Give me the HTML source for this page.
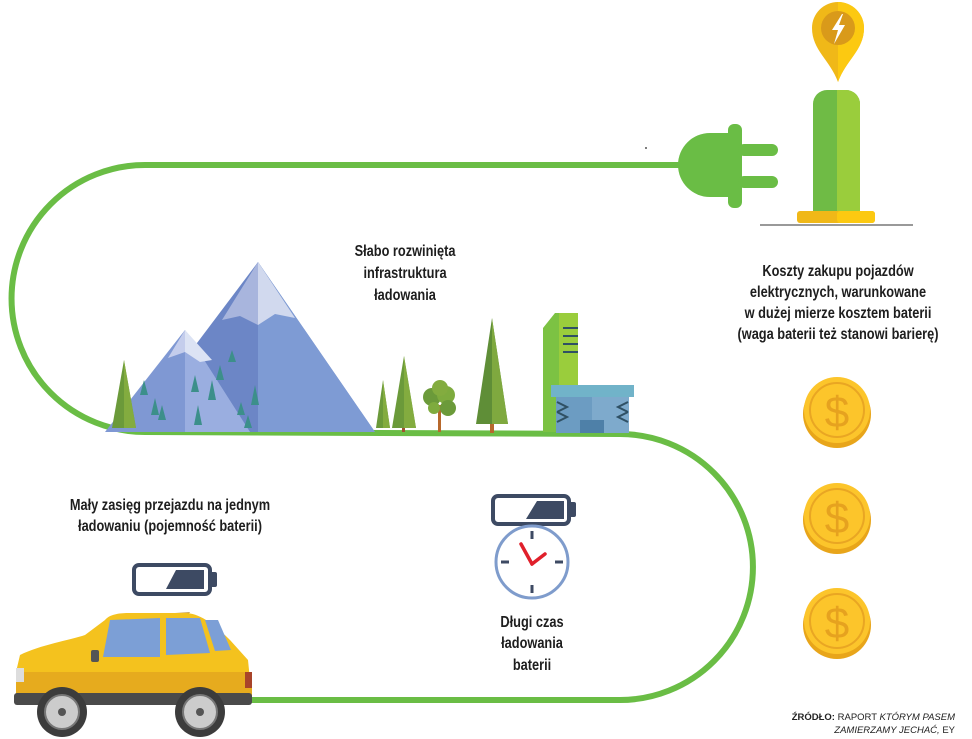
<!DOCTYPE html>
<html><head><meta charset="utf-8">
<style>
html,body{margin:0;padding:0;background:#fff;}
body{width:972px;height:739px;overflow:hidden;position:relative;}
svg{position:absolute;left:0;top:0;}
.t{font-family:"Liberation Sans",sans-serif;font-weight:bold;fill:#1e1e1e;font-size:16px;text-anchor:middle;}
</style></head><body>
<svg width="972" height="739" viewBox="0 0 972 739">
<!-- green path -->
<path d="M690 165 L145 165 A133 133 0 0 0 145 432 L620 434 A133 133 0 0 1 620 700 L240 700" fill="none" stroke="#6abd45" stroke-width="6"/>
<!-- plug -->
<path d="M735 133 L710 133 A32 32 0 0 0 710 197 L735 197 z" fill="#6abd45"/>
<rect x="728" y="124" width="14" height="84" rx="6" fill="#6abd45"/>
<rect x="738" y="144" width="40" height="12" rx="6" fill="#6abd45"/>
<rect x="738" y="176" width="40" height="12" rx="6" fill="#6abd45"/>
<circle cx="646" cy="148" r="1" fill="#555"/>
<!-- charger post -->
<path d="M813 104 a14 14 0 0 1 14 -14 h19 a14 14 0 0 1 14 14 V213 H813 z" fill="#6fbb45"/>
<path d="M837 90 h9 a14 14 0 0 1 14 14 V213 H837 z" fill="#9acd3c"/>
<rect x="797" y="211" width="78" height="12" rx="3" fill="#f0b818"/>
<rect x="837" y="211" width="38" height="12" rx="3" fill="#fcc911"/>
<line x1="760" y1="225" x2="913" y2="225" stroke="#999" stroke-width="2"/>
<!-- pin -->
<path d="M838 82 C830 60 812 50 812 28 a26 26 0 0 1 52 0 C864 50 846 60 838 82 z" fill="#f0b818"/>
<path d="M838 82 C846 60 864 50 864 28 a26 26 0 0 0 -26 -26 z" fill="#fcc911"/>
<circle cx="838" cy="28" r="17" fill="#d99a1a"/>
<path d="M842 14 L832 30 L838 30 L834 44 L845 25 L839 25 L843 14 z" fill="#fff"/>
<!-- text blocks -->
<g transform="translate(838,0) scale(0.8,1)">
<text class="t" x="0" y="276">Koszty zakupu pojazdów</text>
<text class="t" x="0" y="297">elektrycznych, warunkowane</text>
<text class="t" x="0" y="318">w dużej mierze kosztem baterii</text>
<text class="t" x="0" y="339">(waga baterii też stanowi barierę)</text>
</g>
<g transform="translate(405,0) scale(0.8,1)">
<text class="t" x="0" y="256">Słabo rozwinięta</text>
<text class="t" x="0" y="278">infrastruktura</text>
<text class="t" x="0" y="300">ładowania</text>
</g>
<g transform="translate(170,0) scale(0.8,1)">
<text class="t" x="0" y="510">Mały zasięg przejazdu na jednym</text>
<text class="t" x="0" y="531">ładowaniu (pojemność baterii)</text>
</g>
<g transform="translate(532,0) scale(0.8,1)">
<text class="t" x="0" y="627">Długi czas</text>
<text class="t" x="0" y="648">ładowania</text>
<text class="t" x="0" y="670">baterii</text>
</g>
<text x="955" y="720" font-family="Liberation Sans,sans-serif" font-size="9.5" text-anchor="end" fill="#222"><tspan font-weight="bold">ŹRÓDŁO:</tspan> RAPORT <tspan font-style="italic">KTÓRYM PASEM</tspan></text>
<text x="955" y="733" font-family="Liberation Sans,sans-serif" font-size="9.5" text-anchor="end" fill="#222" font-style="italic">ZAMIERZAMY JECHAĆ, <tspan font-style="normal">EY</tspan></text>
<!-- coins -->
<g id="c">
<circle cx="837" cy="414" r="34" fill="#e8a51a"/>
<circle cx="837" cy="410" r="33" fill="#fcc52b"/>
<circle cx="837" cy="410" r="27" fill="none" stroke="#e9a623" stroke-width="2"/>
<text x="837" y="427" font-family="Liberation Sans,sans-serif" font-size="44" text-anchor="middle" fill="#e6a21f">$</text>
</g>
<use href="#c" y="106"/>
<use href="#c" y="211"/>
<!-- mountains -->
<polygon points="258,262 130,432 375,432" fill="#6c86c6"/>
<polygon points="258,262 258,432 375,432" fill="#7e9bd4"/>
<polygon points="258,262 222,320 240,316 258,325" fill="#a8b5dd"/>
<polygon points="258,262 258,325 275,314 295,318" fill="#d1d9ee"/>
<polygon points="185,330 105,432 250,432" fill="#7f98d3"/>
<polygon points="185,330 185,432 250,432" fill="#9aaee0"/>
<polygon points="185,330 168,358 185,352" fill="#c4cdec"/>
<polygon points="185,330 185,352 200,362 212,360" fill="#dce3f4"/>
<g fill="#3c8f8a">
<polygon points="144,380 140,395 148,395"/><polygon points="155,398 151,415 159,415"/><polygon points="162,405 158,420 166,420"/>
<polygon points="195,375 191,392 199,392"/><polygon points="220,365 216,380 224,380"/><polygon points="212,380 208,400 216,400"/>
<polygon points="232,350 228,362 236,362"/><polygon points="255,385 251,405 259,405"/><polygon points="241,402 237,415 245,415"/>
<polygon points="248,415 244,428 252,428"/><polygon points="198,405 194,425 202,425"/>
</g>
<!-- trees -->
<g>
<polygon points="124,360 112,428 136,428" fill="#6b9a3a"/><polygon points="124,360 124,428 136,428" fill="#83ac3f"/>
<polygon points="383,380 376,428 390,428" fill="#6b9a3a"/><polygon points="383,380 383,428 390,428" fill="#83ac3f"/>
<polygon points="404,356 392,428 416,428" fill="#6b9a3a"/><polygon points="404,356 404,428 416,428" fill="#83ac3f"/>
<rect x="402" y="428" width="3" height="4" fill="#a0522d"/>
<rect x="438" y="405" width="3" height="27" fill="#b7682c"/>
<circle cx="432" cy="397" r="9" fill="#6b9a3a"/><circle cx="446" cy="395" r="9" fill="#7eab3e"/><circle cx="440" cy="388" r="8" fill="#83ac3f"/><circle cx="448" cy="408" r="8" fill="#6b9a3a"/><circle cx="434" cy="408" r="6" fill="#7eab3e"/>
<polygon points="492,318 476,424 508,424" fill="#5f8e37"/><polygon points="492,318 492,424 508,424" fill="#7fa93f"/>
<rect x="490" y="424" width="4" height="9" fill="#b7682c"/>
</g>
<!-- building -->
<polygon points="543,328 555,313 578,313 578,432 543,432" fill="#7cc243"/>
<rect x="559" y="313" width="19" height="120" fill="#9acd3c"/>
<g stroke="#2f5064" stroke-width="2"><line x1="563" y1="328" x2="578" y2="328"/><line x1="563" y1="336" x2="578" y2="336"/><line x1="563" y1="344" x2="578" y2="344"/><line x1="563" y1="352" x2="578" y2="352"/></g>
<rect x="551" y="385" width="83" height="12" fill="#71b3c9"/>
<rect x="556" y="397" width="73" height="36" fill="#6c9cc2"/>
<rect x="592" y="397" width="37" height="36" fill="#7eaacc"/>
<rect x="580" y="420" width="24" height="13" fill="#4e80a8"/>
<g stroke="#2f5064" stroke-width="2" fill="none"><path d="M557 402 l10 5 l-10 5"/><path d="M557 412 l10 5 l-10 5"/><path d="M628 402 l-10 5 l10 5"/><path d="M628 412 l-10 5 l10 5"/></g>
<!-- car battery -->
<rect x="134" y="565" width="76" height="29" rx="5" fill="none" stroke="#3d4a63" stroke-width="4"/>
<rect x="210" y="572" width="7" height="15" rx="2" fill="#3d4a63"/>
<polygon points="176,570 204,570 204,589 166,589" fill="#3d4a63"/>
<!-- clock battery -->
<rect x="493" y="496" width="76" height="28" rx="5" fill="none" stroke="#3d4a63" stroke-width="4"/>
<rect x="569" y="502" width="7" height="15" rx="2" fill="#3d4a63"/>
<polygon points="537,501 564,501 564,519 526,519" fill="#3d4a63"/>
<!-- clock -->
<circle cx="532" cy="562" r="36" fill="#fff" stroke="#7f9ccc" stroke-width="3"/>
<g stroke="#3d4a63" stroke-width="3"><line x1="532" y1="531" x2="532" y2="539"/><line x1="532" y1="585" x2="532" y2="593"/><line x1="501" y1="562" x2="509" y2="562"/><line x1="555" y1="562" x2="563" y2="562"/></g>
<g stroke="#e0202b" stroke-width="3.5" stroke-linecap="round"><line x1="532" y1="564" x2="521" y2="544"/><line x1="532" y1="564" x2="545" y2="554"/></g>
<!-- car -->
<polygon points="175,613 190,612 182,626" fill="#c9a24f"/>
<path d="M16 672 L20 655 C40 645 70 640 85 635 L105 620 C110 614 120 613 130 613 L185 613 C200 613 215 625 230 640 L248 660 L252 700 L16 700 z" fill="#f4c21e"/>
<path d="M16 672 L252 672 L252 700 L16 700 z" fill="#e6ab1e"/>
<rect x="14" y="693" width="238" height="12" rx="3" fill="#4a4a4a"/>
<path d="M103 657 L110 620 L160 618 L160 657 z" fill="#7c9fd6"/>
<path d="M166 618 L200 618 L210 653 L166 655 z" fill="#7c9fd6"/>
<path d="M205 620 L218 620 L231 650 L215 651 z" fill="#7c9fd6"/>
<rect x="91" y="650" width="8" height="12" rx="2" fill="#555"/>
<rect x="245" y="672" width="7" height="16" fill="#a8442a"/>
<rect x="16" y="668" width="8" height="14" fill="#ddd"/>
<circle cx="62" cy="712" r="25" fill="#3c3c3c"/><circle cx="62" cy="712" r="17" fill="#ccc" stroke="#777" stroke-width="2"/><circle cx="62" cy="712" r="4" fill="#555"/>
<circle cx="200" cy="712" r="25" fill="#3c3c3c"/><circle cx="200" cy="712" r="17" fill="#ccc" stroke="#777" stroke-width="2"/><circle cx="200" cy="712" r="4" fill="#555"/>
</svg>
</body></html>
